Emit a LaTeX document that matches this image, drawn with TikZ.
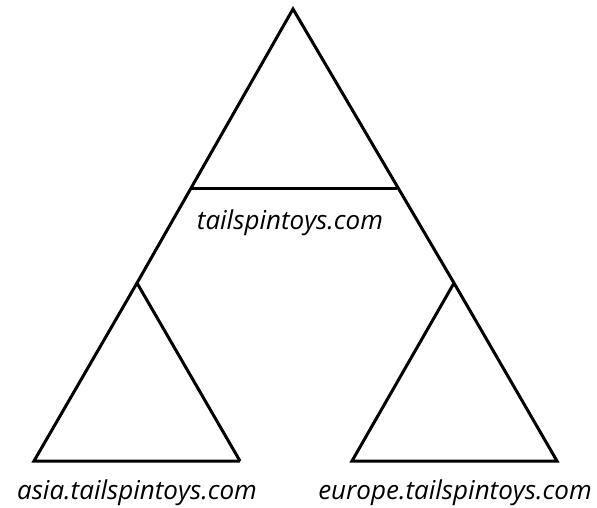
\documentclass[tikz,border=0pt]{standalone}
\usepackage{fontspec}
\setmainfont{Open Sans}
\begin{document}
\begin{tikzpicture}[x=1pt,y=-1pt,
  edge/.style={line width=3pt,line join=miter,black},
  lbl/.style={font=\fontsize{26}{28}\selectfont\itshape,text=black,inner sep=0pt,anchor=base}]
\useasboundingbox (0,0) rectangle (597,507);
\coordinate (top) at (293,9);
\coordinate (ml) at (192,188);
\coordinate (mr) at (397,188);
\coordinate (la) at (137,283);
\coordinate (ra) at (454,283);
\coordinate (lbl) at (34,461);
\coordinate (lbr) at (240,461);
\coordinate (rbl) at (352,461);
\coordinate (rbr) at (557,461);
\draw[edge] (lbr) -- (la) -- (top) -- (ra) -- (rbr) -- (rbl) -- (ra);
\draw[edge] (la) -- (lbl) -- (lbr);
\draw[edge] (ml) -- (mr);
\node[lbl] (t) at (290,229) {tailspintoys.com};
\node[lbl] (a) at (137,499) {asia.tailspintoys.com};
\node[lbl] (e) at (455,499) {europe.tailspintoys.com};
\end{tikzpicture}
\end{document}
